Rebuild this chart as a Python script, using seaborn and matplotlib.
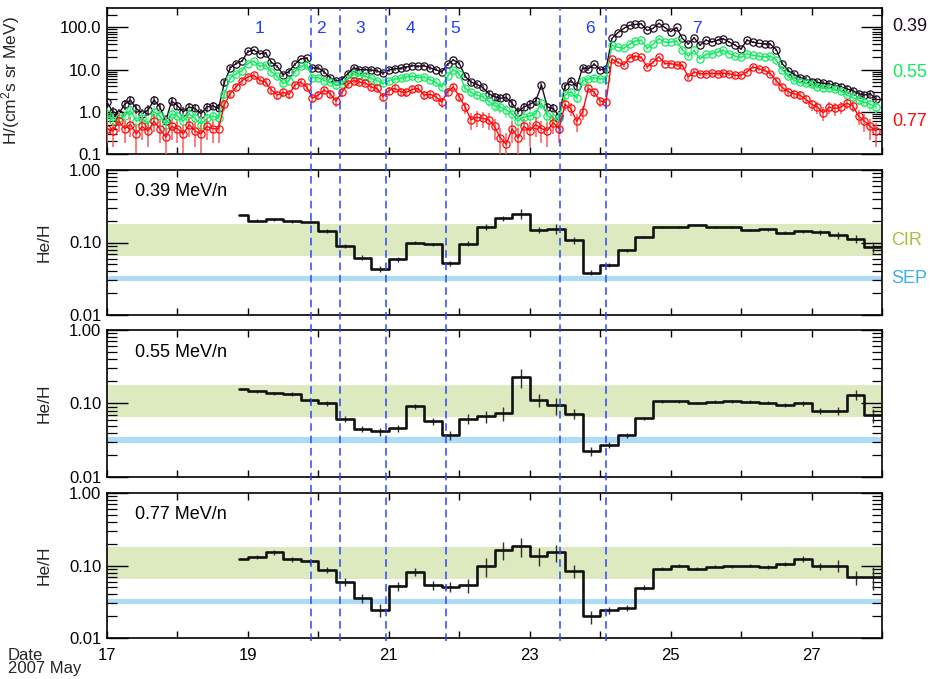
import numpy as np
import pandas as pd
import matplotlib
matplotlib.use("Agg")
import matplotlib.pyplot as plt
import seaborn as sns
from matplotlib.ticker import FixedLocator, FixedFormatter, LogLocator, NullFormatter

# ---------------------------------------------------------------------------
# Proton intensities, H/(cm^2 s sr MeV), two-hour samples from 2007 May 17 00:00
flux_039 = [
    1.7, 1.0, 0.9, 1.5, 1.9, 1.2, 0.9, 1.1, 1.9, 1.3, 0.6, 1.8,
    1.4, 1.0, 1.3, 1.2, 0.9, 1.3, 1.4, 1.2, 5.0, 11, 14, 16,
    27, 29, 24, 25, 15, 12, 7.5, 9.0, 13.5, 18, 19, 11,
    11, 8.8, 6.5, 5.4, 5.8, 8.0, 11, 10, 10, 9.8, 9.4, 8.2,
    9.8, 10.5, 10.8, 11.5, 12.5, 12, 12.5, 11, 10, 8.8, 13.5, 17,
    14, 7.0, 5.1, 4.5, 3.8, 2.7, 2.3, 2.1, 2.2, 1.6, 1.0, 1.3,
    1.5, 1.8, 4.3, 1.3, 1.2, 0.8, 4.0, 5.5, 4.0, 11, 10.5, 13.5,
    10, 10.5, 55, 75, 95, 112, 118, 122, 85, 95, 126, 100,
    80, 100, 55, 41, 57, 38, 50, 45, 50, 54, 45, 38,
    31, 50, 45, 42, 41, 40, 30, 14, 9.5, 7.8, 6.5, 6.0,
    5.2, 5.0, 4.8, 4.6, 4.2, 3.9, 3.5, 3.2, 2.7, 2.5, 2.7, 2.0,
]
flux_055 = [
    0.9, 0.6, 0.7, 0.8, 1.1, 0.6, 0.7, 0.5, 1.0, 0.8, 0.5, 0.9,
    0.8, 0.6, 0.9, 0.7, 0.5, 0.7, 0.8, 0.7, 2.6, 6.5, 8.0, 9.5,
    14, 16, 12, 13, 9.0, 7.0, 4.7, 5.5, 9.0, 12, 13, 6.5,
    6.5, 5.5, 5.1, 4.3, 4.6, 6.0, 8.0, 7.4, 7.0, 6.2, 5.5, 4.7,
    5.5, 6.0, 6.2, 6.7, 7.0, 6.5, 6.7, 5.8, 5.0, 3.9, 7.0, 10,
    8.0, 3.6, 2.9, 2.5, 2.3, 1.8, 1.4, 1.3, 1.1, 0.9, 0.6, 0.75,
    0.8, 0.9, 1.6, 0.8, 0.7, 0.7, 2.5, 3.0, 2.1, 5.5, 6.0, 6.5,
    6.0, 6.1, 38, 34, 32, 40, 48, 50, 32, 40, 54, 45,
    45, 48, 30, 21, 29, 18, 23, 24, 26, 29, 24, 21,
    19.6, 24, 22, 21, 20, 21, 17, 10, 7.0, 5.6, 5.0, 4.7,
    4.5, 3.8, 3.6, 3.6, 3.4, 3.2, 2.5, 2.2, 1.9, 1.7, 1.5, 1.3,
]
flux_077 = [
    0.4, 0.35, 0.6, 0.4, 0.5, 0.3, 0.45, 0.35, 0.6, 0.4, 0.25, 0.45,
    0.4, 0.3, 0.5, 0.35, 0.3, 0.45, 0.4, 0.4, 1.5, 2.7, 3.9, 5.5,
    6.7, 7.4, 5.6, 5.1, 3.3, 2.5, 2.9, 2.6, 4.3, 5.1, 3.9, 2.1,
    2.5, 3.3, 2.7, 1.8, 2.9, 4.5, 5.5, 5.1, 4.8, 3.9, 3.6, 2.3,
    3.2, 3.6, 3.0, 2.9, 3.4, 3.6, 2.5, 2.6, 2.3, 1.7, 3.0, 3.9,
    2.3, 1.3, 0.65, 0.75, 0.7, 0.65, 0.45, 0.24, 0.17, 0.4, 0.24, 0.45,
    0.36, 0.5, 0.4, 0.36, 0.55, 0.4, 1.5, 1.2, 0.6, 1.0, 3.6, 2.9,
    1.8, 1.7, 17.8, 15, 13, 19, 21, 19.6, 11.6, 15, 20, 14,
    13.9, 13, 12.7, 6.7, 8.8, 8.0, 8.0, 8.2, 8.0, 8.2, 8.0, 7.4,
    7.4, 8.8, 11.6, 10.5, 9.7, 8.0, 5.5, 3.8, 3.0, 2.7, 2.5, 2.0,
    1.5, 1.3, 0.95, 1.3, 1.2, 1.3, 1.6, 1.4, 0.8, 0.6, 0.45, 0.35,
]
# counting-statistics scale of the relative uncertainty for each channel
count_scale = {"0.39": 0.30, "0.55": 0.35, "0.77": 0.35}

# He/H in 6-hour bins (first bin partial, starting 18.875)
heh_039 = [0.243, 0.200, 0.209, 0.195, 0.193, 0.145, 0.090, 0.0615, 0.0434, 0.0589,
           0.100, 0.0948, 0.052, 0.096, 0.166, 0.216, 0.251, 0.148, 0.155, 0.108,
           0.0382, 0.0493, 0.078, 0.120, 0.163, 0.166, 0.177, 0.163, 0.163, 0.148,
           0.152, 0.137, 0.142, 0.139, 0.125, 0.113, 0.086]
heh_055 = [0.158, 0.147, 0.137, 0.134, 0.110, 0.101, 0.062, 0.0453, 0.0416, 0.0457,
           0.092, 0.0569, 0.0375, 0.062, 0.0666, 0.0738, 0.228, 0.113, 0.094, 0.0723,
           0.0225, 0.0271, 0.0367, 0.063, 0.107, 0.107, 0.101, 0.106, 0.107, 0.106,
           0.103, 0.095, 0.100, 0.080, 0.080, 0.131, 0.0687]
heh_077 = [0.121, 0.132, 0.152, 0.122, 0.114, 0.087, 0.0596, 0.0354, 0.0247, 0.0525,
           0.0818, 0.053, 0.0508, 0.0535, 0.0978, 0.163, 0.187, 0.136, 0.152, 0.0835,
           0.0198, 0.024, 0.0258, 0.0492, 0.090, 0.099, 0.090, 0.096, 0.097, 0.100,
           0.095, 0.105, 0.124, 0.098, 0.100, 0.069, 0.070]
# fractional uncertainties of the ratios
err_039 = [0.0, 0.04, 0.04, 0.04, 0.04, 0.06, 0.07, 0.08, 0.09, 0.08, 0.05, 0.05,
           0.08, 0.08, 0.10, 0.08, 0.15, 0.10, 0.16, 0.12, 0.08, 0.07, 0.05, 0.04,
           0.03, 0.03, 0.03, 0.03, 0.03, 0.03, 0.04, 0.05, 0.06, 0.08, 0.10, 0.14, 0.18]
err_055 = [0.0, 0.05, 0.06, 0.06, 0.08, 0.08, 0.10, 0.10, 0.12, 0.10, 0.08, 0.10,
           0.14, 0.16, 0.18, 0.22, 0.28, 0.20, 0.26, 0.16, 0.15, 0.09, 0.07, 0.05,
           0.04, 0.04, 0.04, 0.04, 0.04, 0.05, 0.05, 0.06, 0.07, 0.10, 0.12, 0.15, 0.22]
err_077 = [0.0, 0.06, 0.07, 0.08, 0.09, 0.10, 0.12, 0.13, 0.20, 0.14, 0.12, 0.14,
           0.16, 0.22, 0.30, 0.28, 0.30, 0.28, 0.26, 0.20, 0.20, 0.12, 0.10, 0.08,
           0.05, 0.05, 0.05, 0.05, 0.05, 0.05, 0.06, 0.07, 0.10, 0.12, 0.18, 0.22, 0.35]

energies = ["0.39", "0.55", "0.77"]
boundaries = [19.89, 20.30, 20.96, 21.81, 23.43, 24.08]
interval_names = ["1", "2", "3", "4", "5", "6", "7"]
interval_label_x = [19.17, 20.04, 20.59, 21.30, 21.94, 23.85, 25.37]
cir_range = (0.065, 0.18)
sep_range = (0.029, 0.035)
day_ticks = list(range(17, 29, 2))
date_label = "Date\n2007 May"

# ---------------------------------------------------------------------------
sns.set_theme(style="ticks")
plt.rcParams["font.family"] = ["Liberation Sans", "DejaVu Sans"]
plt.rcParams["mathtext.fontset"] = "custom"
plt.rcParams["mathtext.rm"] = "Liberation Sans"
plt.rcParams["mathtext.default"] = "regular"
plt.rcParams["lines.scale_dashes"] = False

W_PX, H_PX = 933, 679
fig = plt.figure(figsize=(W_PX / 100, H_PX / 100), dpi=100)
LEFT, RIGHT = 107, 882


def box(top, bottom):
    return [LEFT / W_PX, 1 - bottom / H_PX, (RIGHT - LEFT) / W_PX, (bottom - top) / H_PX]


ax0 = fig.add_axes(box(8, 154))
ratio_axes = [fig.add_axes(box(170, 315)), fig.add_axes(box(330, 477)),
              fig.add_axes(box(493, 638))]

TICK_FS = 12


def style_axis(ax, labels_bottom):
    ax.set_xlim(17, 28)
    ax.xaxis.set_major_locator(FixedLocator(day_ticks))
    ax.xaxis.set_minor_locator(FixedLocator([d + 1 for d in day_ticks if d + 1 <= 28]))
    if labels_bottom:
        ax.xaxis.set_major_formatter(FixedFormatter([str(d) for d in day_ticks]))
    else:
        ax.xaxis.set_major_formatter(NullFormatter())
    ax.xaxis.set_minor_formatter(NullFormatter())
    ax.tick_params(axis="both", which="both", direction="in", top=True, right=True,
                   color="black", labelcolor="black", labelsize=TICK_FS)
    ax.tick_params(axis="x", which="both", length=5, width=1, pad=7)
    ax.tick_params(axis="y", which="major", length=15, width=1, pad=4)
    ax.tick_params(axis="y", which="minor", length=7, width=0.9)
    for s in ax.spines.values():
        s.set_linewidth(1.2)
        s.set_color("black")
    ax.set_facecolor("white")


# ---------------- top panel: proton intensities ----------------
t = 17 + np.arange(len(flux_039)) / 12.0
flux = pd.DataFrame({"t": t, "0.39": flux_039, "0.55": flux_055, "0.77": flux_077})
line_colors = {"0.39": "#1e0a1e", "0.55": "#12ea60", "0.77": "#ff0a0a"}
err_colors = {"0.39": "#4a3a4a", "0.55": "#7af5a5", "0.77": "#ff5a5a"}

ax0.set_yscale("log")
for i, e in enumerate(energies):
    f = flux[e].to_numpy()
    rel = count_scale[e] / np.sqrt(f)
    up = f * rel
    lo = np.minimum(f * rel, f * 0.92)
    ax0.errorbar(flux["t"], f, yerr=[lo, up], fmt="none", ecolor=err_colors[e],
                 elinewidth=1.1, capsize=0, zorder=2 + 2 * i)
    sns.lineplot(data=flux, x="t", y=e, ax=ax0, estimator=None, sort=True,
                 color=line_colors[e], lw=1.0, marker="o", markersize=5.2,
                 markerfacecolor="none", markeredgecolor=line_colors[e],
                 markeredgewidth=0.9, zorder=3 + 2 * i)
ax0.set_ylim(0.1, 290)
ax0.yaxis.set_major_locator(FixedLocator([0.1, 1, 10, 100]))
ax0.yaxis.set_major_formatter(FixedFormatter(["0.1", "1.0", "10.0", "100.0"]))
ax0.yaxis.set_minor_locator(LogLocator(base=10, subs=np.arange(2, 10)))
ax0.yaxis.set_minor_formatter(NullFormatter())
style_axis(ax0, False)
ax0.set_xlabel("")
ax0.set_ylabel("H/(cm$^2$s sr MeV)", fontsize=12.5)
ax0.yaxis.set_label_coords(-0.110, 0.5)

for name, xpos in zip(interval_names, interval_label_x):
    ax0.text(xpos, 0.86, name, transform=ax0.get_xaxis_transform(), color="#1f3cff",
             fontsize=12.5, ha="center", va="center")

right_label_y = [0.87, 0.555, 0.226]
for e, yy in zip(energies, right_label_y):
    ax0.text(1.013, yy, e, transform=ax0.transAxes, color=line_colors[e],
             fontsize=13, ha="left", va="center")

# ---------------- ratio panels ----------------
edges = np.r_[18.875, np.arange(19.0, 28.001, 0.25)]
centers = 0.5 * (edges[:-1] + edges[1:])
ratio_sets = [(heh_039, err_039), (heh_055, err_055), (heh_077, err_077)]

for k, (ax, (vals, errs), e) in enumerate(zip(ratio_axes, ratio_sets, energies)):
    ax.set_yscale("log")
    ax.axhspan(*cir_range, color="#dde9bf", lw=0, zorder=0)
    ax.axhspan(*sep_range, color="#acdcf7", lw=0, zorder=0)
    v = np.asarray(vals)
    er = np.asarray(errs) * v
    step = pd.DataFrame({"x": edges, "ratio": np.r_[v, v[-1]]})
    ax.errorbar(centers, v, yerr=er, fmt="none", ecolor="#303030",
                elinewidth=1.0, capsize=0, zorder=3)
    sns.lineplot(data=step, x="x", y="ratio", ax=ax, estimator=None,
                 drawstyle="steps-post", color="#111111", lw=1.9, zorder=4)
    ax.set_ylim(0.01, 1.0)
    ax.yaxis.set_major_locator(FixedLocator([0.01, 0.1, 1.0]))
    ax.yaxis.set_major_formatter(FixedFormatter(["0.01", "0.10", "1.00"]))
    ax.yaxis.set_minor_locator(LogLocator(base=10, subs=np.arange(2, 10)))
    ax.yaxis.set_minor_formatter(NullFormatter())
    style_axis(ax, k == 2)
    ax.set_xlabel("")
    ax.set_ylabel("He/H", fontsize=12.5)
    ax.yaxis.set_label_coords(-0.071, 0.5)
    ax.text(0.036, 0.85, f"{e} MeV/n", transform=ax.transAxes, fontsize=13,
            ha="left", va="center", color="black")

ratio_axes[0].text(1.012, 0.517, "CIR", transform=ratio_axes[0].transAxes,
                   color="#a8c23c", fontsize=13, ha="left", va="center")
ratio_axes[0].text(1.012, 0.25, "SEP", transform=ratio_axes[0].transAxes,
                   color="#3aaef0", fontsize=13, ha="left", va="center")

fig.text(8 / W_PX, 1 - 662 / H_PX, date_label, fontsize=12, ha="left", va="center",
         linespacing=0.85)

# ---------------- interval boundaries across all panels ----------------
ov = fig.add_axes(box(8, 641), facecolor="none")
ov.set_xlim(17, 28)
ov.set_ylim(0, 1)
ov.axis("off")
ov.vlines(boundaries, 0, 1, colors="#2a48ff", linestyles=[(0, (5.5, 3.4))], lw=1.1)

fig.savefig("out.png", dpi=100)
